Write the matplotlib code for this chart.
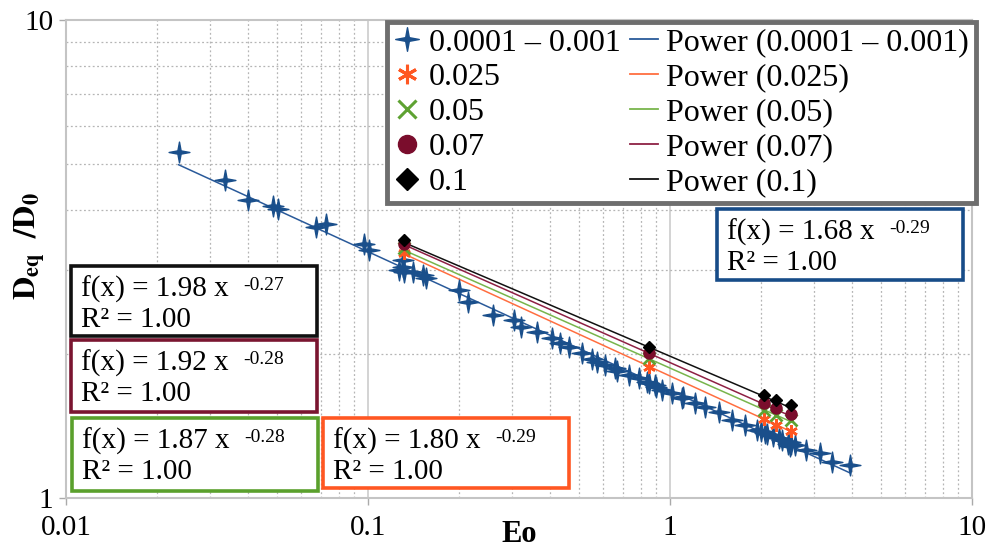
import matplotlib
matplotlib.use("Agg")
import matplotlib.pyplot as plt
from matplotlib.lines import Line2D
from matplotlib.patches import Rectangle
from matplotlib.path import Path
from matplotlib.ticker import FixedLocator, FixedFormatter, LogLocator, NullFormatter
import numpy as np

plt.rcParams['font.family'] = ['Liberation Serif', 'DejaVu Serif']
plt.rcParams['mathtext.fontset'] = 'stix'

# data
eo_blue = [0.0236, 0.0337, 0.0402, 0.0484, 0.0502, 0.0672, 0.0725, 0.0970, 0.1007, 0.1267,
           0.1306, 0.1306, 0.1316, 0.1411, 0.1524, 0.156, 0.2006, 0.2149, 0.260, 0.3055,
           0.322, 0.3615, 0.4055, 0.4315, 0.4617, 0.5103, 0.55, 0.572, 0.608, 0.656, 0.67,
           0.731, 0.789, 0.839, 0.85, 0.892, 0.90, 0.940, 1.016, 1.096, 1.10, 1.211, 1.307,
           1.455, 1.607, 1.775, 1.945, 2.0, 2.07, 2.1, 2.2, 2.30, 2.35, 2.45, 2.49, 2.5,
           2.52, 2.60, 2.81, 3.13, 3.45, 3.93]
deq_blue = [5.29, 4.63, 4.20, 4.08, 4.02, 3.69, 3.74, 3.40, 3.30, 3.00,
            3.15, 3.04, 2.97, 2.97, 2.93, 2.88, 2.72, 2.57, 2.41, 2.36,
            2.28, 2.22, 2.16, 2.11, 2.07, 2.01, 1.95, 1.925, 1.90, 1.87, 1.84,
            1.81, 1.78, 1.75, 1.74, 1.72, 1.71, 1.68, 1.66, 1.62, 1.63, 1.58, 1.55,
            1.51, 1.456, 1.42, 1.39, 1.38, 1.37, 1.36, 1.345, 1.335, 1.32, 1.30, 1.31, 1.285,
            1.30, 1.29, 1.26, 1.24, 1.19, 1.17]

eo_other = [0.1317, 0.851, 2.04, 2.25, 2.52]
deq_025 = [3.26, 1.88, 1.463, 1.42, 1.38]
deq_05 = [3.33, 1.96, 1.53, 1.49, 1.455]
deq_07 = [3.40, 2.01, 1.58, 1.54, 1.50]
deq_1 = [3.46, 2.07, 1.64, 1.60, 1.565]

names = ['0.0001 – 0.001', '0.025', '0.05', '0.07', '0.1']
fit_a = [1.68, 1.80, 1.87, 1.92, 1.98]
fit_b = [-0.29, -0.29, -0.28, -0.28, -0.27]

mark_col = ['#1a4f8b', '#ff5722', '#5ea232', '#7a0d2c', '#000000']
line_col = ['#2a5a9a', '#ff6e40', '#78b54c', '#8e2144', '#111111']
box_col = ['#174c88', '#ff5722', '#5aa02c', '#7a1530', '#111111']

W, H = 993, 552
fig = plt.figure(figsize=(W / 100, H / 100), dpi=100)
ax = fig.add_axes([66 / W, 54 / H, 906 / W, 478 / H])

def fx(px):
    return px / W

def fy(py):
    return 1 - py / H

# thin four pointed star like the excel marker
r_in = 0.22
star_pts = []
for k in range(4):
    t = np.pi / 2 * k
    star_pts.append((np.cos(t), np.sin(t)))
    star_pts.append((r_in * np.cos(t + np.pi / 4), r_in * np.sin(t + np.pi / 4)))
star_pts.append(star_pts[0])
star = Path(star_pts, closed=True)

ax.set_xscale('log')
ax.set_yscale('log')
ax.set_xlim(0.01, 10)
ax.set_ylim(1, 10)

# grid
ax.xaxis.set_major_locator(FixedLocator([0.01, 0.1, 1, 10]))
ax.xaxis.set_major_formatter(FixedFormatter(['0.01', '0.1', '1', '10']))
ax.yaxis.set_major_locator(FixedLocator([1, 10]))
ax.yaxis.set_major_formatter(FixedFormatter(['1', '10']))
ax.xaxis.set_minor_locator(LogLocator(base=10, subs=np.arange(2, 10)))
ax.yaxis.set_minor_locator(LogLocator(base=10, subs=np.arange(2, 10)))
ax.xaxis.set_minor_formatter(NullFormatter())
ax.yaxis.set_minor_formatter(NullFormatter())
ax.grid(which='major', color='#cccccc', lw=1.2)
ax.grid(which='minor', color='#b5b5b5', lw=0.9, ls=(0, (1.5, 2)))
ax.set_axisbelow(True)
ax.tick_params(which='major', length=5, width=1, color='#aaaaaa', labelsize=21, pad=4)
ax.tick_params(axis='x', which='major', pad=7)
ax.tick_params(which='minor', length=0)
for s in ax.spines.values():
    s.set_color('#c4c4c4')
    s.set_linewidth(1.5)

# trend lines
series_x = [eo_blue, eo_other, eo_other, eo_other, eo_other]
for i in range(5):
    xs = np.geomspace(min(series_x[i]), max(series_x[i]), 50)
    ax.plot(xs, fit_a[i] * xs ** fit_b[i], color=line_col[i], lw=1.1, zorder=2)

# markers
ax.plot(eo_blue, deq_blue, ls='none', marker=star, ms=15, color=mark_col[0], zorder=3)
ax.plot(eo_other, deq_025, ls='none', marker=(6, 2, 0), ms=9, mew=1.8, color=mark_col[1], zorder=3)
ax.plot(eo_other, deq_05, ls='none', marker='x', ms=8, mew=2, color=mark_col[2], zorder=3)
ax.plot(eo_other, deq_07, ls='none', marker='o', ms=8, color=mark_col[3], zorder=3)
ax.plot(eo_other, deq_1, ls='none', marker='D', ms=6, color=mark_col[4], zorder=3)

# legend
mk = [dict(marker=star, ms=17), dict(marker=(6, 2, 0), ms=14, mew=2.2),
      dict(marker='x', ms=13, mew=2.2), dict(marker='o', ms=13), dict(marker='D', ms=11)]
handles = [Line2D([], [], ls='none', color=mark_col[i], **mk[i]) for i in range(5)]
handles += [Line2D([], [], color=line_col[i], lw=1.3) for i in range(5)]
labels = names + ['Power (' + n + ')' for n in names]
leg = ax.legend(handles, labels, ncol=2, loc='upper right', bbox_to_anchor=(1.004, 0.996),
                borderaxespad=0, fontsize=23, handlelength=0.85, handletextpad=0.28,
                columnspacing=0.3, labelspacing=0.17, borderpad=0.2,
                fancybox=False, framealpha=1)
leg.get_frame().set_edgecolor('#6e6e6e')
leg.get_frame().set_linewidth(3.5)

# equation boxes
boxes = [(717, 209, 71), (323, 418, 70), (72, 418, 73), (71, 340, 72), (71, 266, 70)]
for i in range(5):
    left, top, h = boxes[i]
    fig.add_artist(Rectangle((fx(left), fy(top + h)), 246 / W, h / H, transform=fig.transFigure,
                             facecolor='white', edgecolor=box_col[i], lw=2.6, zorder=5))
    fig.text(fx(left + 10), fy(top + 31), 'f(x) = %.2f x' % fit_a[i], fontsize=21,
             va='baseline', zorder=6)
    fig.text(fx(left + 172), fy(top + 24), '%.2f' % fit_b[i], fontsize=14,
             va='baseline', zorder=6)
    fig.text(fx(left + 10), fy(top + 61), 'R² = 1.00', fontsize=21, va='baseline', zorder=6)

# axis labels
fig.text(fx(519), fy(534), 'Eo', fontsize=22, fontweight='bold', ha='center', va='center')
fig.text(fx(30), fy(246), r'$\mathbf{D}_{\mathbf{eq}}\ \ \mathbf{/D}_{\mathbf{0}}$', fontsize=23,
         rotation=90, ha='center', va='center')

fig.savefig('out.png', dpi=100)
